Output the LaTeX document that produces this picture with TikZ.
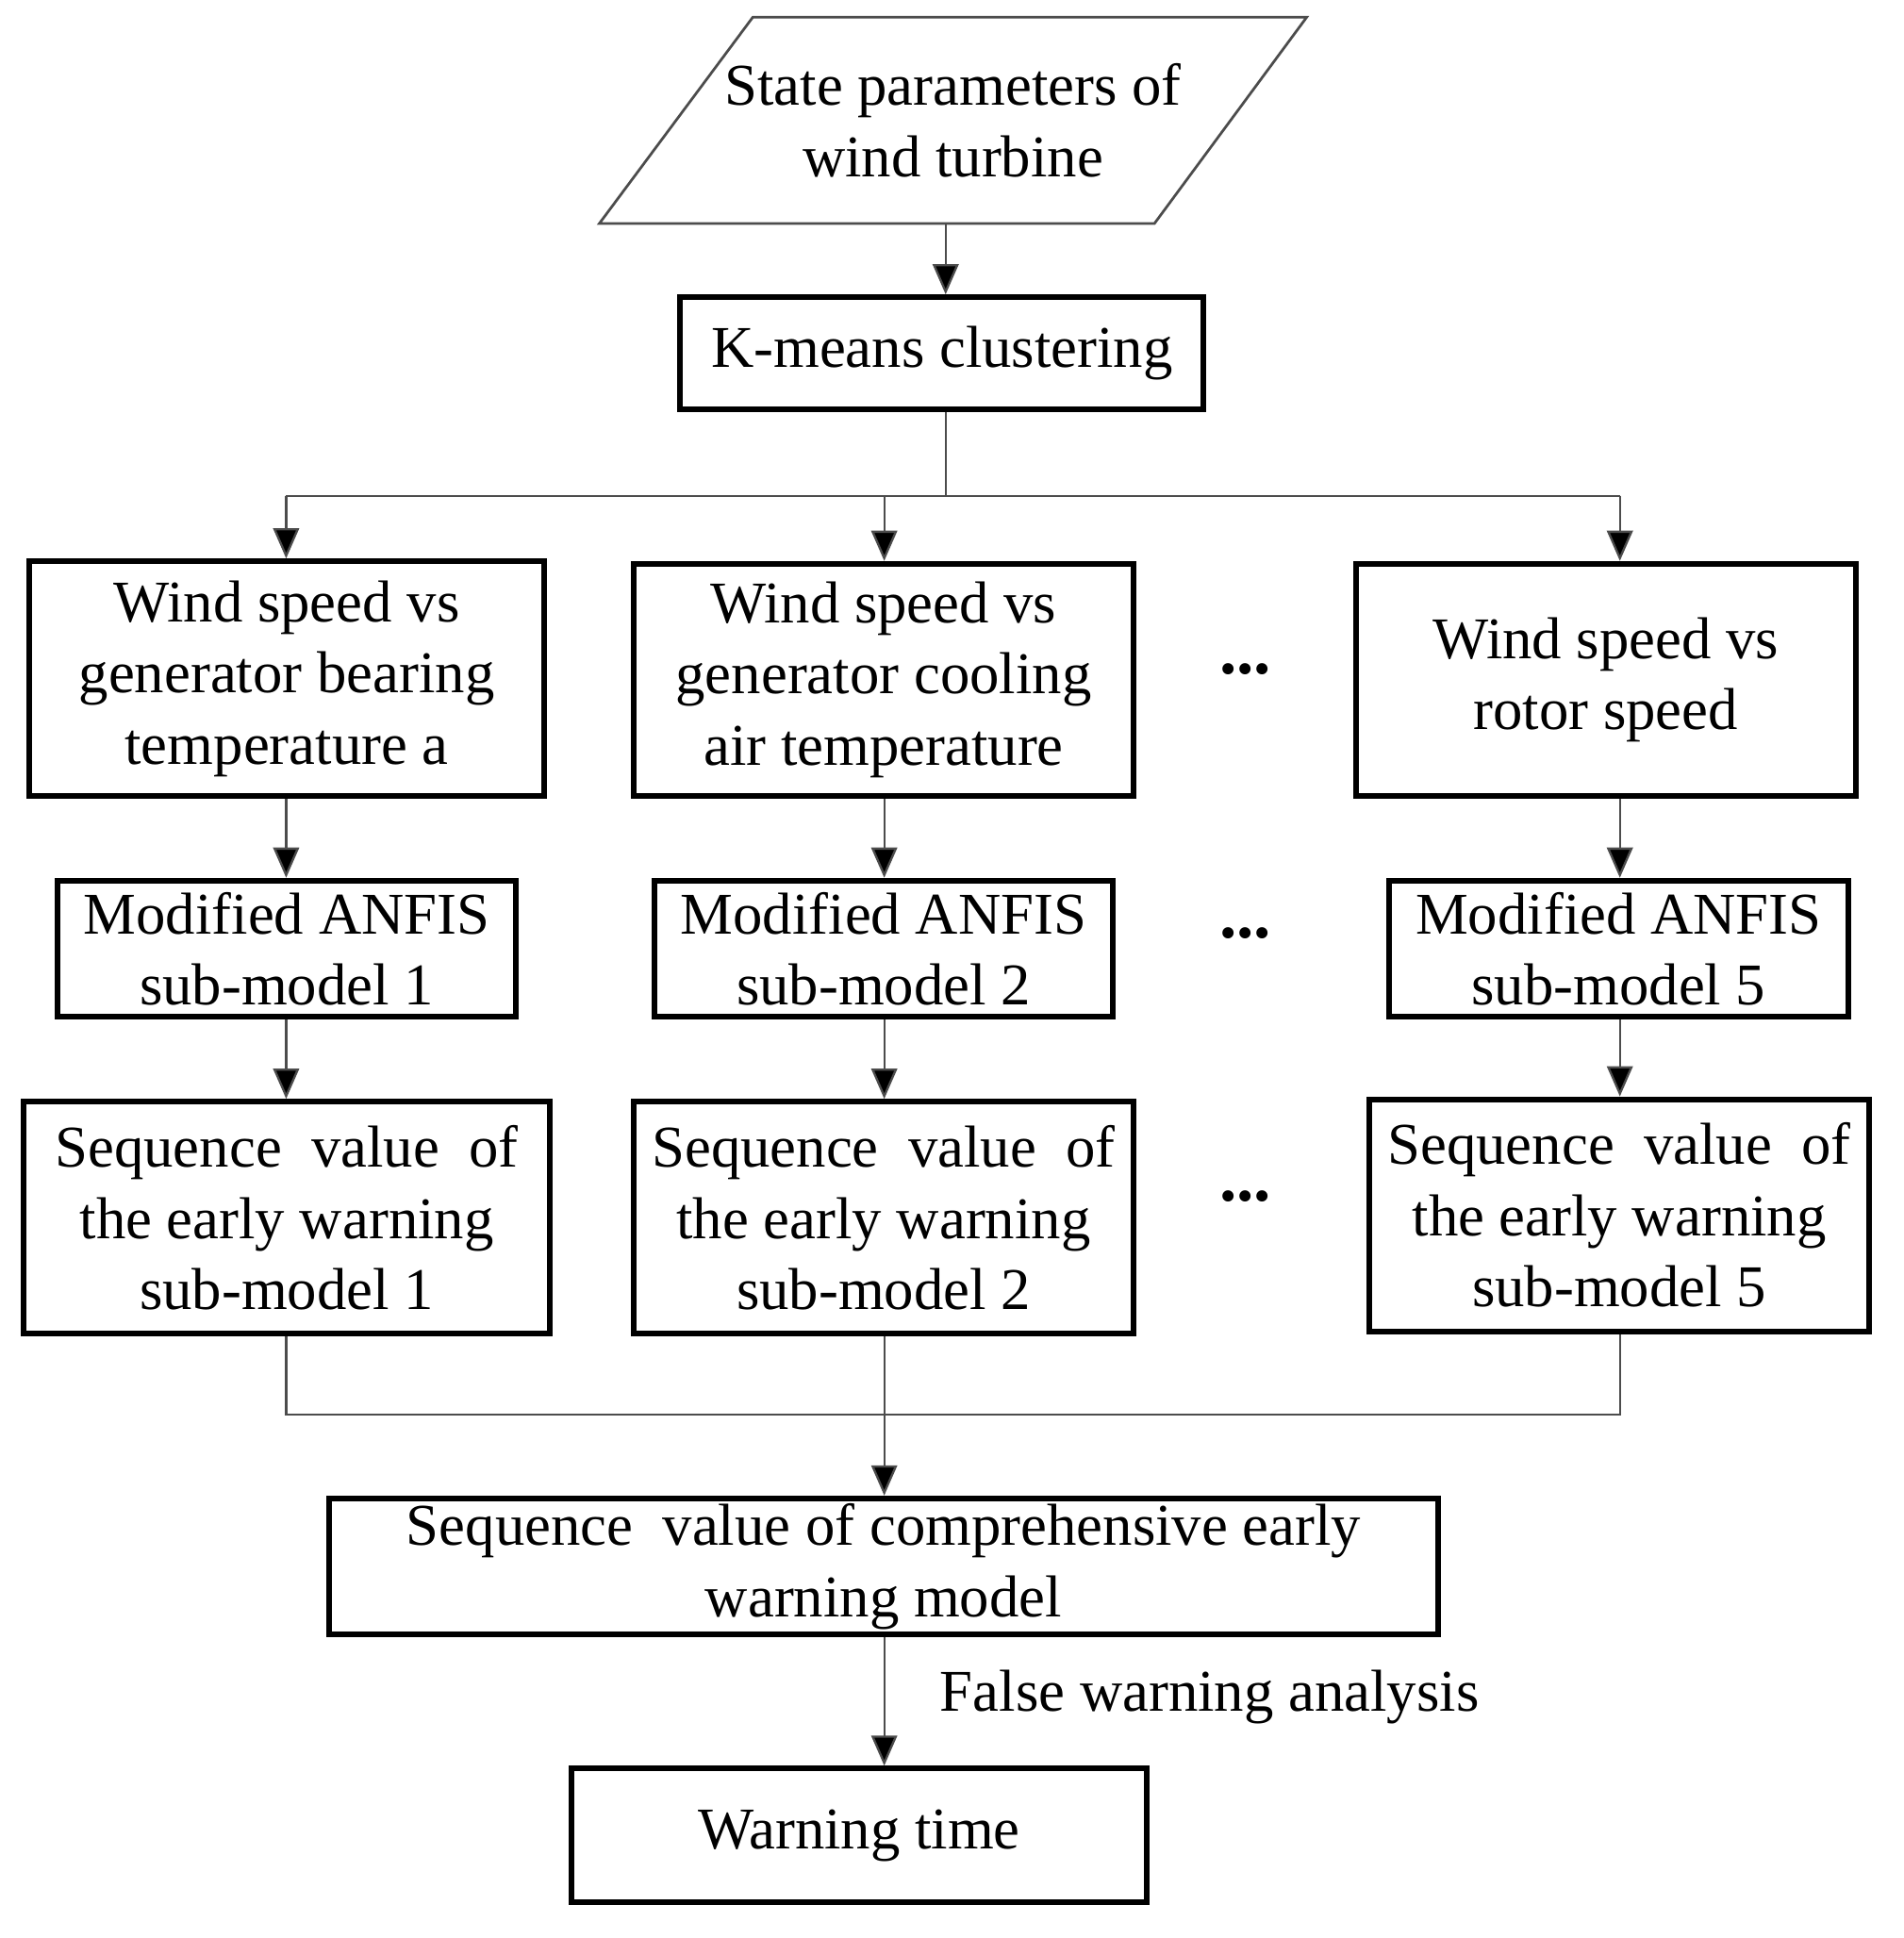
\documentclass[tikz,border=0pt]{standalone}
\usepackage{fontspec}
\setmainfont{Liberation Serif}
\usetikzlibrary{arrows.meta}
\begin{document}
\begin{tikzpicture}[x=0.01cm,y=-0.01cm,
  box/.style={draw,line width=1.3pt,inner sep=0pt,font=\fontsize{13.7}{16.5}\selectfont,align=center},
  conn/.style={draw=black!70,line width=0.5pt},
  arr/.style={conn,-{Triangle[length=7pt,width=6pt,fill=black]}},
  txt/.style={font=\fontsize{13.7}{16.5}\selectfont,align=center},
  dots/.style={font=\fontsize{16}{16}\bfseries\selectfont}]
\useasboundingbox (0,0) rectangle (1550,1578);
\draw[draw=black!70,line width=0.6pt] (613,14)--(1064,14)--(940,182)--(488,182)--cycle;
\node[txt] (in) at (776,98) {State parameters of\\wind turbine};
\coordinate (inb) at (770,182);
\newcommand{\bx}[6]{\node[box,minimum width={(#4-#2)*0.01cm},minimum height={(#5-#3)*0.01cm}] (#1) at ({(#2+#4)/2},{(#3+#5)/2}) {#6};}
\bx{km}{554}{242}{980}{333}{K-means clustering}
\bx{a1}{24}{457}{443}{648}{Wind speed vs\\generator bearing\\temperature a}
\bx{a2}{516}{459}{923}{648}{Wind speed vs\\generator cooling\\air temperature}
\bx{a3}{1104}{459}{1511}{648}{Wind speed vs\\rotor speed}
\bx{b1}{47}{717}{420}{828}{Modified ANFIS\\sub-model 1}
\bx{b2}{533}{717}{906}{828}{Modified ANFIS\\sub-model 2}
\bx{b3}{1131}{717}{1505}{828}{Modified ANFIS\\sub-model 5}
\bx{c1}{19}{897}{448}{1086}{Sequence\ \ value\ \ of\\the early warning\\sub-model 1}
\bx{c2}{516}{897}{923}{1086}{Sequence\ \ value\ \ of\\the early warning\\sub-model 2}
\bx{c3}{1115}{895}{1522}{1084}{Sequence\ \ value\ \ of\\the early warning\\sub-model 5}
\bx{d}{268}{1220}{1171}{1331}{Sequence\ \ value of comprehensive early\\warning model}
\bx{e}{465}{1440}{934}{1549}{Warning time}
\node[dots] (dt1) at (1014,545) {...};
\node[dots] (dt2) at (1014,760) {...};
\node[dots] (dt3) at (1014,974) {...};
\node[txt] (fw) at (985,1382) {False warning analysis};
\draw[arr] (inb) -- (km.north -| inb);
\coordinate (s1) at (770,404);
\draw[conn] (km.south -| s1) -- (s1);
\draw[conn] (233,404) -- (1319,404);
\draw[arr] (233,404) -- (a1.north -| 233,0);
\draw[arr] (720,404) -- (a2.north -| 720,0);
\draw[arr] (1319,404) -- (a3.north -| 1319,0);
\draw[arr] (a1.south -| 233,0) -- (b1.north -| 233,0);
\draw[arr] (a2.south -| 720,0) -- (b2.north -| 720,0);
\draw[arr] (a3.south -| 1319,0) -- (b3.north -| 1319,0);
\draw[arr] (b1.south -| 233,0) -- (c1.north -| 233,0);
\draw[arr] (b2.south -| 720,0) -- (c2.north -| 720,0);
\draw[arr] (b3.south -| 1319,0) -- (c3.north -| 1319,0);
\draw[conn] (c1.south -| 233,0) -- (233,1152) -- (1319,1152) -- (c3.south -| 1319,0);
\draw[arr] (c2.south -| 720,0) -- (d.north -| 720,0);
\draw[arr] (d.south -| 720,0) -- (e.north -| 720,0);
\end{tikzpicture}
\end{document}
